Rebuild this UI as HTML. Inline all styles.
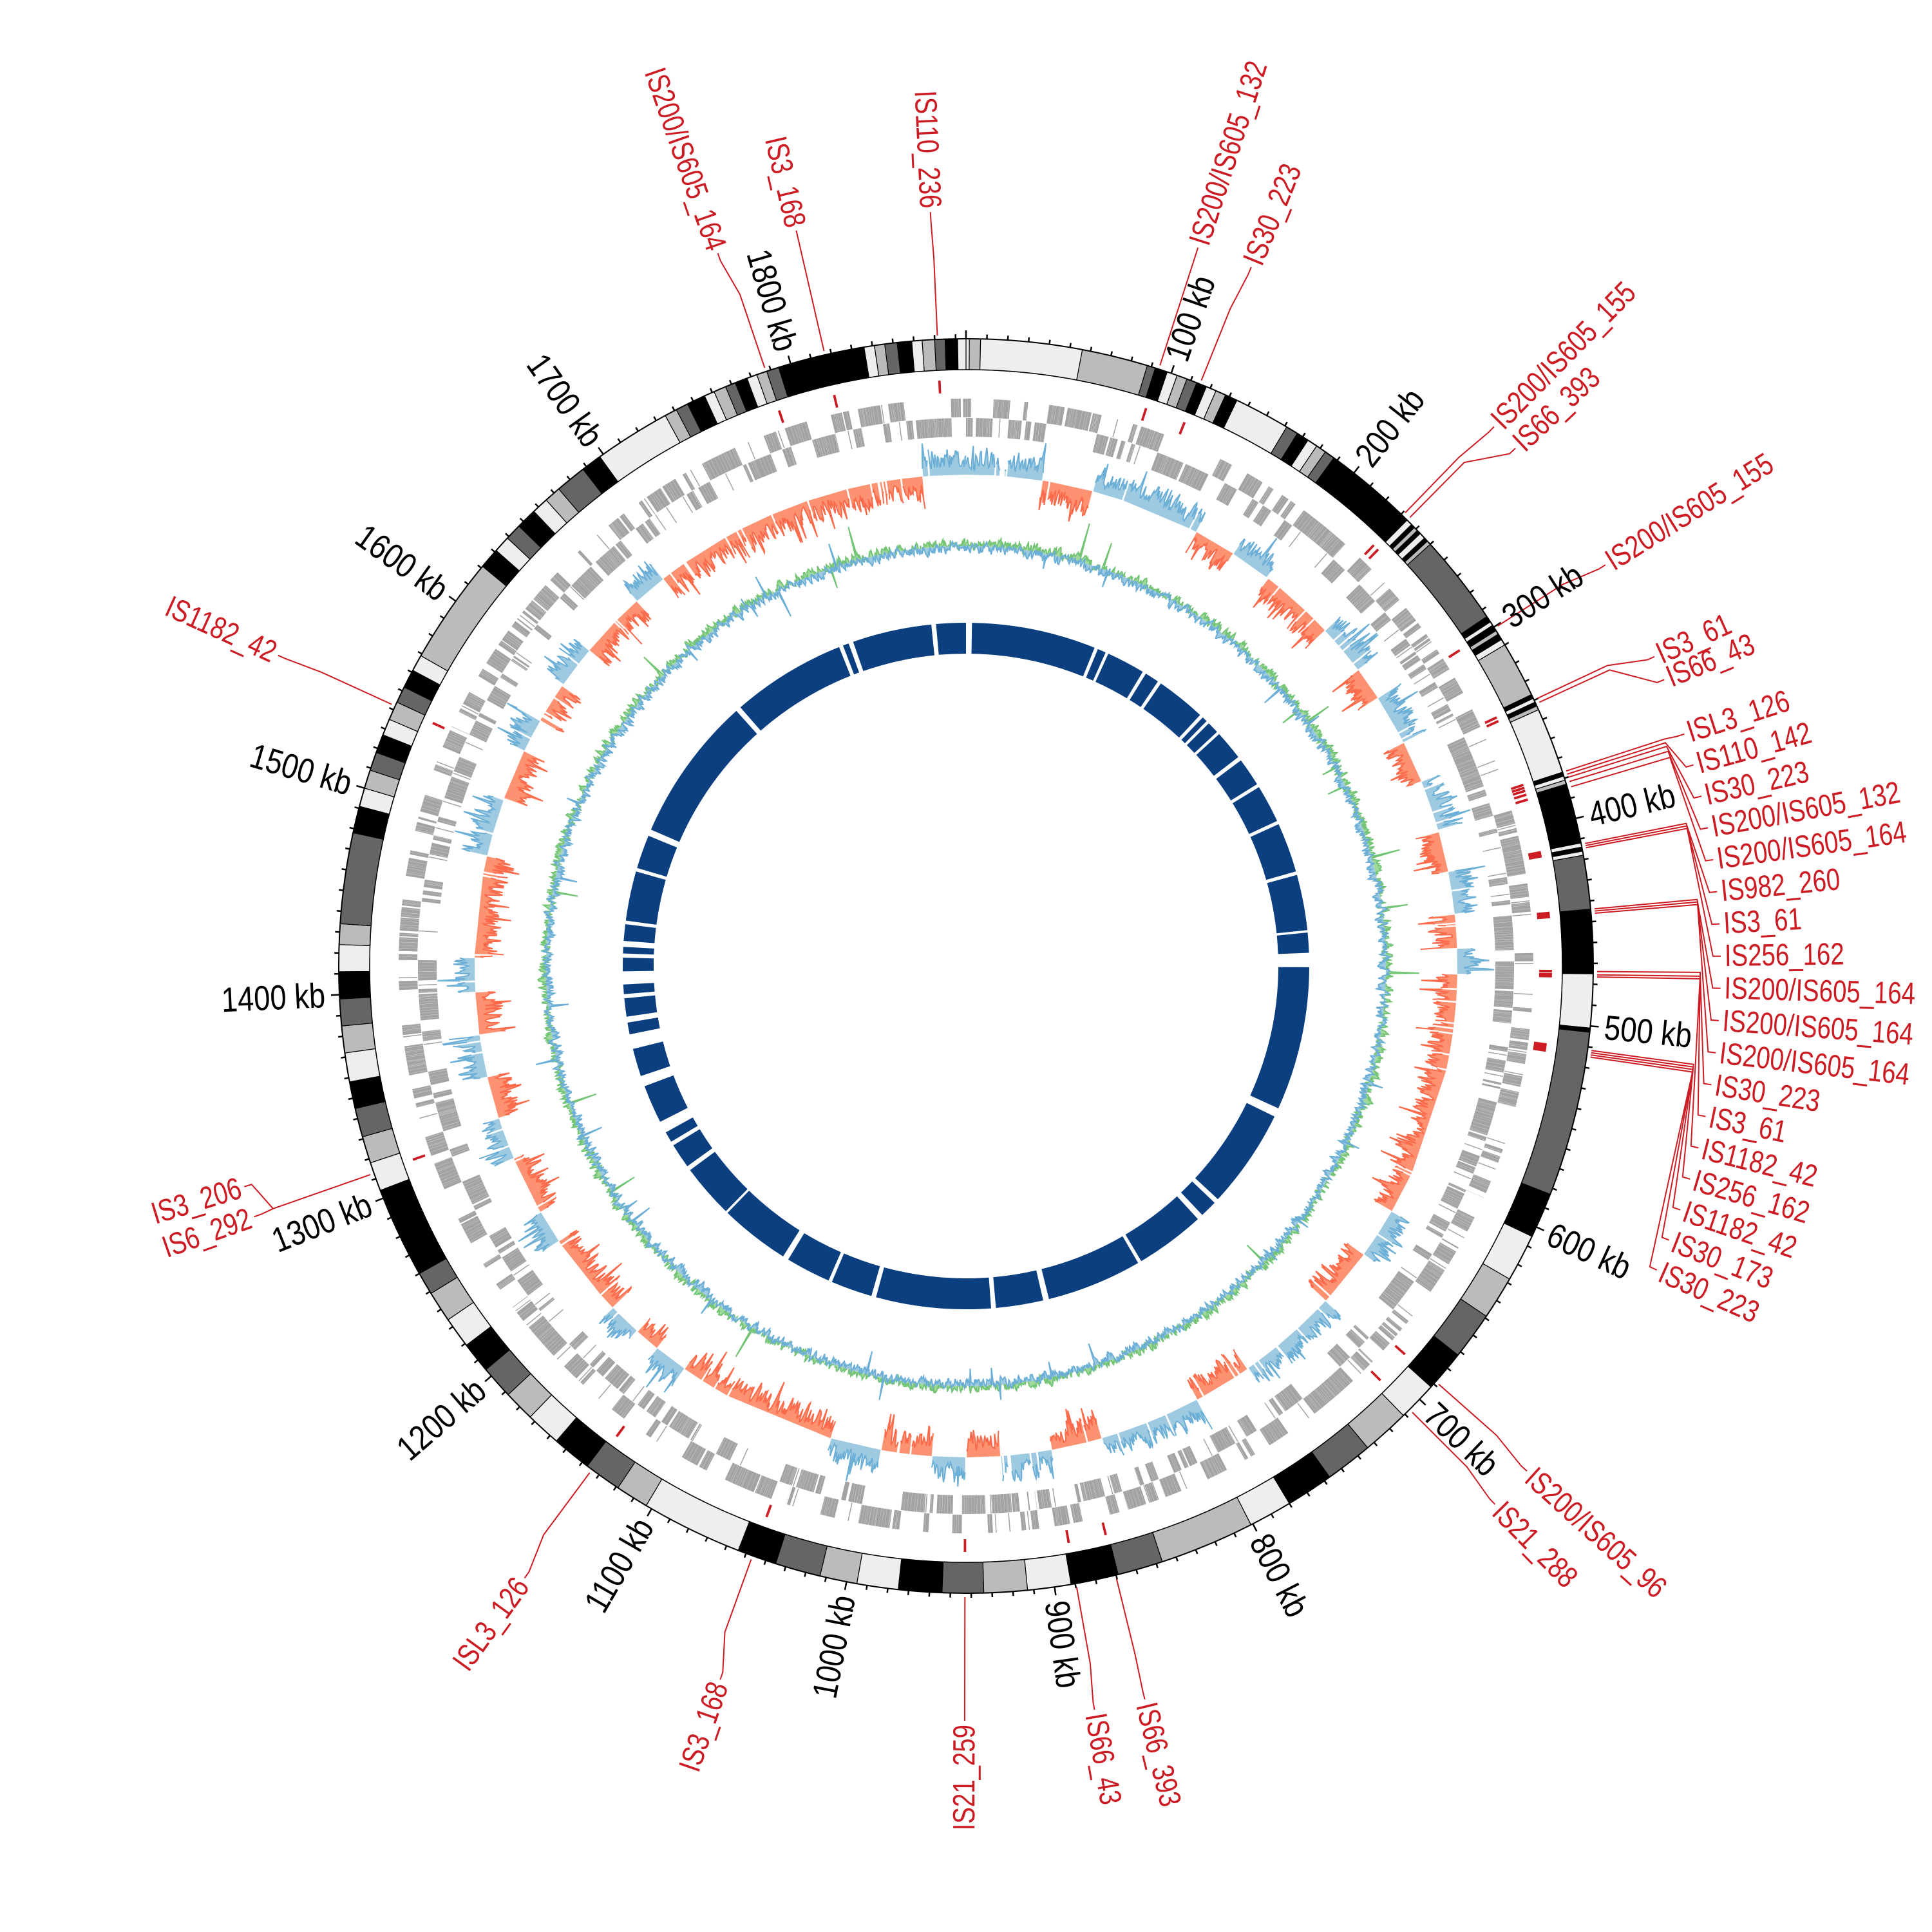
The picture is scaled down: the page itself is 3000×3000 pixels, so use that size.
<!DOCTYPE html>
<html><head><meta charset="utf-8"><style>
html,body{margin:0;padding:0;background:#fff}
svg{display:block}
.t{font-family:"Liberation Sans Narrow","Liberation Sans",sans-serif;font-size:54px;fill:#000}
.i{font-family:"Liberation Sans Narrow","Liberation Sans",sans-serif;font-size:48px;fill:#cc1b22}
</style></head><body>
<svg id="s" xmlns="http://www.w3.org/2000/svg" width="3000" height="3000" viewBox="0 0 3000 3000">
<rect width="3000" height="3000" fill="#fff"/>
<g id="g"></g>
<g id="tl">
<text class="t">100 kb</text><text class="t">200 kb</text><text class="t">300 kb</text><text class="t">400 kb</text><text class="t">500 kb</text><text class="t">600 kb</text><text class="t">700 kb</text><text class="t">800 kb</text><text class="t">900 kb</text><text class="t">1000 kb</text><text class="t">1100 kb</text><text class="t">1200 kb</text><text class="t">1300 kb</text><text class="t">1400 kb</text><text class="t">1500 kb</text><text class="t">1600 kb</text><text class="t">1700 kb</text><text class="t">1800 kb</text>
</g>
<g id="il">
<text class="i">IS200/IS605_164</text>
<text class="i">IS3_168</text>
<text class="i">IS110_236</text>
<text class="i">IS200/IS605_132</text>
<text class="i">IS30_223</text>
<text class="i">IS200/IS605_155</text>
<text class="i">IS66_393</text>
<text class="i">IS200/IS605_155</text>
<text class="i">IS3_61</text>
<text class="i">IS66_43</text>
<text class="i">ISL3_126</text>
<text class="i">IS110_142</text>
<text class="i">IS30_223</text>
<text class="i">IS200/IS605_132</text>
<text class="i">IS200/IS605_164</text>
<text class="i">IS982_260</text>
<text class="i">IS3_61</text>
<text class="i">IS256_162</text>
<text class="i">IS200/IS605_164</text>
<text class="i">IS200/IS605_164</text>
<text class="i">IS200/IS605_164</text>
<text class="i">IS30_223</text>
<text class="i">IS3_61</text>
<text class="i">IS1182_42</text>
<text class="i">IS256_162</text>
<text class="i">IS1182_42</text>
<text class="i">IS30_173</text>
<text class="i">IS30_223</text>
<text class="i">IS200/IS605_96</text>
<text class="i">IS21_288</text>
<text class="i">IS66_393</text>
<text class="i">IS66_43</text>
<text class="i">IS21_259</text>
<text class="i">IS3_168</text>
<text class="i">ISL3_126</text>
<text class="i">IS3_206</text>
<text class="i">IS6_292</text>
<text class="i">IS1182_42</text>
</g>
</svg>
<script>
(function(){
var C=1500,G=1885,K=360/G,NS="http://www.w3.org/2000/svg";
var g=document.getElementById('g');
function P(r,d){var a=d*Math.PI/180;return [C+r*Math.sin(a),C-r*Math.cos(a)];}
function f(v){return v.toFixed(1);}
function pt(r,d){var p=P(r,d);return f(p[0])+','+f(p[1]);}
function sector(r1,r2,a1,a2){var l=(a2-a1)>180?1:0;
 return 'M'+pt(r2,a1)+'A'+r2+','+r2+' 0 '+l+' 1 '+pt(r2,a2)+'L'+pt(r1,a2)+'A'+r1+','+r1+' 0 '+l+' 0 '+pt(r1,a1)+'Z';}
function el(tag,attrs){var e=document.createElementNS(NS,tag);for(var k in attrs)e.setAttribute(k,attrs[k]);g.appendChild(e);return e;}
var seed=12345;function rnd(){seed|=0;seed=seed+0x6D2B79F5|0;var t=Math.imul(seed^seed>>>15,1|seed);t=t+Math.imul(t^t>>>7,61|t)^t;return((t^t>>>14)>>>0)/4294967296;}

var col={w:'#eeeeee',l:'#bbbbbb',d:'#656565',b:'#000000'};
var bands=[[0,1.6,'w'],[1.6,7,'l'],[7,56,'w'],[56,88,'l'],[88,92,'d'],[92,98,'b'],[98,103,'w'],[103,108,'l'],[108,113,'d'],[113,118,'b'],[118,123,'w'],[123,128,'l'],[128,134,'b'],[134,161,'w'],[161,167,'d'],[167,173,'b'],[173,178,'w'],[178,183,'l'],[183,188,'d'],[188,234,'b'],
[234,237,'w'],[237,239,'b'],[239,241,'l'],[241,243,'b'],[243,246,'w'],[246,248,'b'],[248,250,'l'],[250,294,'d'],
[294,297,'b'],[297,299,'w'],[299,302,'b'],[302,304,'l'],[304,307,'b'],[307,310,'w'],[310,337,'l'],[337,339,'b'],[339,341,'w'],[341,343,'b'],[343,345,'l'],[345,377,'w'],[377,379,'b'],[379,381,'w'],[381,383,'l'],[383,385,'b'],[385,412,'b'],[412,414,'w'],[414,416,'b'],[416,418,'w'],[418,444,'d'],[444,475,'b'],[475,501,'w'],[501,503,'b'],[503,583,'d'],[583,605,'b'],[605,628,'w'],[628,649,'l'],[649,672,'d'],[672,692,'b'],[692,711,'w'],[711,734,'l'],[734,757,'d'],[757,780,'b'],[780,801,'w'],[801,847,'l'],[847,869,'d'],[869,892,'b'],[892,913,'w'],[913,934,'l'],[934,954,'d'],[954,975,'b'],[975,995,'w'],[995,1013,'l'],[1013,1035,'d'],[1035,1054,'b'],[1054,1103,'w'],[1103,1119,'l'],[1119,1137,'d'],[1137,1156,'b'],[1156,1173,'w'],[1173,1188,'l'],[1188,1204,'d'],[1204,1219,'b'],[1219,1234,'w'],[1234,1249,'l'],[1249,1260,'d'],[1260,1304,'b'],[1304,1318,'w'],[1318,1331,'l'],[1331,1345,'d'],[1345,1358,'b'],[1358,1372,'w'],[1372,1385,'l'],[1385,1398,'d'],[1398,1411,'b'],[1411,1424,'w'],[1424,1434,'l'],[1434,1478,'d'],[1478,1491,'b'],[1491,1500,'w'],[1500,1509,'l'],[1509,1518,'d'],[1518,1527,'b'],[1527,1535,'w'],[1535,1544,'l'],[1544,1552,'d'],[1552,1561,'b'],[1561,1569,'w'],[1569,1621,'l'],[1621,1631,'b'],[1631,1639,'w'],[1639,1647,'d'],[1647,1657,'b'],[1657,1665,'w'],[1665,1673,'l'],[1673,1688,'d'],[1688,1698,'b'],[1698,1735,'w'],[1735,1741,'l'],[1741,1747,'d'],[1747,1756,'b'],[1756,1761,'w'],[1761,1767,'l'],[1767,1772,'d'],[1772,1778,'b'],[1778,1783,'w'],[1783,1788,'l'],[1788,1794,'d'],[1794,1836,'b'],[1836,1841,'w'],[1841,1846,'l'],[1846,1852,'d'],[1852,1859,'b'],[1859,1864,'w'],[1864,1870,'l'],[1870,1875,'d'],[1875,1881,'b'],[1881,1885,'w']];
var R1=926,R2=974;
bands.forEach(function(b){el('path',{d:sector(R1,R2,b[0]*K,b[1]*K),fill:col[b[2]],stroke:'#000','stroke-width':1.2});});
el('circle',{cx:C,cy:C,r:R2,fill:'none',stroke:'#000','stroke-width':2});
el('circle',{cx:C,cy:C,r:R1,fill:'none',stroke:'#000','stroke-width':1.5});
var td='';
for(var k=0;k<G;k+=10){var big=(k%100===0);var a=k*K;td+='M'+pt(R2,a)+'L'+pt(R2+(big?13:7),a);}
el('path',{d:td,stroke:'#000','stroke-width':2.5,fill:'none'});
var tl=document.getElementById('tl').children;
for(var i=0;i<tl.length;i++){var a=(i+1)*100*K;place(tl[i],a,996,0.84);}
function place(t,a,r,sx){var p=P(r,a);t.setAttribute('dominant-baseline','central');
 if(a<180){t.setAttribute('text-anchor','start');t.setAttribute('transform','translate('+f(p[0])+','+f(p[1])+') rotate('+f(a-90)+') scale('+sx+',1)');}
 else{t.setAttribute('text-anchor','end');t.setAttribute('transform','translate('+f(p[0])+','+f(p[1])+') rotate('+f(a+90)+') scale('+sx+',1)');}}

/* gene ring: alternating strand blocks, dense */
var gs='',lines='';var k=0,row=0;
while(k<G){var L=2+Math.pow(rnd(),1.3)*13;var r1=row?852:822,r2=row?881:851;
 var kk=k;while(kk<k+L){var w=0.4+rnd()*1.6;if(rnd()<0.92){gs+=sector(r1,r2,kk*K,Math.min(kk+w,k+L)*K);}kk+=w+0.08;}
 if(rnd()<0.4){var a=(k+rnd()*L)*K;var o=row?822:852;lines+='M'+pt(o,a)+'L'+pt(o+29,a);}
 k+=L+(rnd()<0.2?rnd()*1.5:0);row=rnd()<0.75?1-row:row;}
el('path',{d:gs,fill:'#a3a3a3'});
el('path',{d:lines,stroke:'#a3a3a3','stroke-width':1.5,fill:'none'});

/* IS labels */
var IS=[[341.4,340.8],[347.0,347.0],[357.4,357.3],[17.9,17.9],[21.9,22.2],[44.1,44.4],[44.7,46.7],[57.4,57.9],[64.9,65.8],[65.3,67.7],
[72.0,72.1,1],[72.3,74.55,1],[72.6,77.0,1],[73.0,79.45,1],[73.5,81.9,1],[78.8,84.35,1],[79.0,86.8,1],[79.2,89.25,1],[84.8,91.7,1],[85.0,94.15,1],[85.2,96.6,1],[90.5,99.05,1],[90.8,101.5,1],[91.0,103.95,1],[97.7,106.4,1],[97.9,108.85,1],[98.1,111.3,1],[98.3,113.75,1],
[131.5,132.0],[135.0,135.5],[166.2,166.3],[169.9,170.2],[180.1,180.1],[199.9,199.0],[216.6,215.8],[250.7,253.0,1],[250.7,250.6,1],[294.5,294.3]];
var il=document.getElementById('il').children;
var cd='',md='';
IS.forEach(function(s,i){var rb=s[2]?1140:1100;
 cd+='M'+pt(980,s[0])+'L'+pt(rb,s[0])+'L'+pt(1160,s[1])+'L'+pt(1172,s[1]);
 md+=sector(890,910,s[0]-0.12,s[0]+0.12);
 place(il[i],s[1],1178,0.8);});
el('path',{d:cd,stroke:'#cc1b22','stroke-width':2,fill:'none'});
el('path',{d:md,fill:'#cc1b22'});

/* histogram */
var reg=[[0,9,1],[9,15,-1],[15,28,1],[28,33,-1],[33,38,1],[38,47,-1],[47,53,1],[53,57,-1],[57,63,1],[63,68,-1],[68,74,1],[74,79,-1],[79,84,1],[84,88,-1],[88,91,1],[91,120,-1],[120,126,1],[126,133,-1],[133,145,1],[145,152,-1],[152,164,1],[164,170,-1],[170,176,1],[176,180,-1],[180,184,1],[184,190,-1],[190,196,1],[196,215,-1],[215,219,1],[219,222,-1],[222,226,1],[226,236,-1],[236,240,1],[240,247,-1],[247,252,1],[252,257,-1],[257,262,1],[262,267,-1],[267,271,1],[271,283,-1],[283,290,1],[290,296,-1],[296,300,1],[300,305,-1],[305,310,1],[310,318,-1],[318,322,1],[322,355,-1],[355,360,1]];
function sgn(a){for(var i=0;i<reg.length;i++)if(a>=reg[i][0]&&a<reg[i][1])return reg[i][2];return 1;}
var B=763,N=3600,vals=[],x=20;
for(var i=0;i<=N;i++){var a=i*360/N;var s=sgn(a);x=0.35*x+0.65*(6+Math.pow(rnd(),1.5)*40);var v=x;if(rnd()<0.06)v+=10+rnd()*25;
 if(rnd()<0.03)v=0;vals.push(Math.min(v,58)*s);}
function track(base,arr,sign,fill,stroke){var fd='',sd='',run=[];
 function flush(){if(run.length>1){var s='M'+pt(base,run[0][0]);run.forEach(function(q){s+='L'+pt(base+q[1],q[0]);});
  s+='L'+pt(base,run[run.length-1][0])+'Z';fd+=s;var t='';run.forEach(function(q,j){t+=(j?'L':'M')+pt(base+q[1],q[0]);});sd+=t;}run=[];}
 for(var i=0;i<arr.length;i++){var a=i*360/(arr.length-1);var v=arr[i];if(v*sign>0)run.push([a,v]);else flush();}
 flush();el('path',{d:fd,fill:fill});el('path',{d:sd,fill:'none',stroke:stroke,'stroke-width':2});}
track(B,vals,1,'#9ecae1','#6baed6');
track(B,vals,-1,'#fc9272','#fb6a4a');

/* line track */
var L0=652,gv=[],bv=[],y1=0,y2=0;
for(var i=0;i<=N;i++){y1=0.5*y1+0.5*((rnd()-0.4)*28);y2=0.5*y2+0.5*((rnd()-0.6)*28);
 var a=y1,b=y2;if(rnd()<0.006)a+=(rnd()<0.5?-1:1)*(25+rnd()*25);if(rnd()<0.006)b+=(rnd()<0.5?-1:1)*(20+rnd()*20);gv.push(a);bv.push(b);}
function band(base,arr,fill,stroke){var s='',t='';var n=arr.length;
 for(var i=0;i<n;i++){var a=i*360/(n-1);var q=pt(base+arr[i],a);s+=(i?'L':'M')+q;t+=(i?'L':'M')+q;}
 for(var i=n-1;i>=0;i-=10){s+='L'+pt(base,i*360/(n-1));}
 s+='Z';
 el('path',{d:s,fill:fill,'fill-rule':'nonzero'});el('path',{d:t,fill:'none',stroke:stroke,'stroke-width':2});}
band(L0,gv,'#a1d99b','#74c476');
band(L0,bv,'#9ecae1','#6baed6');

/* inner blue ring */
var gaps=[[0,1.0],[22,22.6],[24,24.5],[31,31.6],[34,34.6],[43,43.6],[44.5,45],[47,47.5],[52.5,53.2],[58,58.6],[65,65.6],[74,74.6],[84,84.4],[87.8,90.2],[114.5,116],[132.8,133.6],[136.5,137.5],[149.3,149.9],[166,167],[175,175.8],[195.2,196],[203,203.6],[211.2,212.2],[224,224.4],[233.5,234.3],[238.5,239.2],[241,243],[249.5,251.3],[256,258.5],[260.5,261.5],[264.6,265.3],[266.9,269.1],[271.4,272.1],[273.2,274.2],[277,277.6],[286,286.6],[292.3,293.4],[318,318.9],[338.3,339],[340,340.8],[354.2,355]];
var s0=0,bd='';gaps.forEach(function(gp){if(gp[0]>s0)bd+=sector(485,533,s0,gp[0]);s0=gp[1];});
bd+=sector(485,533,s0,360);
el('path',{d:bd,fill:'#0b3f7f'});
})();
</script>
</body></html>
